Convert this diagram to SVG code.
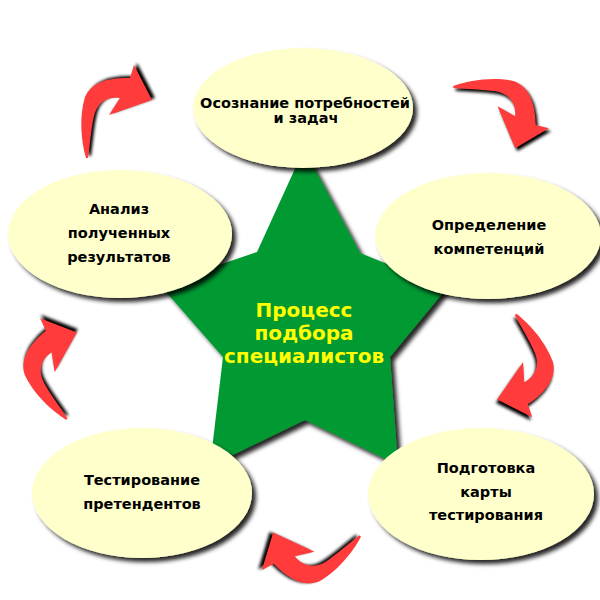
<svg xmlns="http://www.w3.org/2000/svg" xmlns:xlink="http://www.w3.org/1999/xlink" width="600" height="600" viewBox="0 0 600 600">
<style>
.node-shape{fill:#FFFFCC;filter:url(#shadow);}
.lbl{font-family:"DejaVu Sans","Noto Sans",sans-serif;font-weight:bold;font-size:14.5px;fill:#000;text-anchor:middle;}
.center{font-family:"DejaVu Sans","Noto Sans",sans-serif;font-weight:bold;font-size:20px;fill:#FFFF00;text-anchor:middle;}
</style>
<defs>
<filter id="shadow" x="-20%" y="-20%" width="140%" height="140%">
<feDropShadow dx="4" dy="4" stdDeviation="2" flood-color="#000" flood-opacity="0.85"/>
</filter>
<filter id="blur" x="-30%" y="-30%" width="160%" height="160%">
<feGaussianBlur stdDeviation="1.6"/>
</filter>
<g id="arrowShape">
<path transform="translate(3,-2)" filter="url(#blur)" fill="#000" d="M-31,47 C-36,30 -38,5 -32,-14 C-26,-28 -10,-34 13,-33 L17,-46 L35,-11 L-8,4 L3,-13 C-10,-15 -20,-8 -23,5 C-26,18 -27,34 -29,47 Z"/>
<path fill="#FF3B3B" d="M-31,47 C-36,30 -38,5 -32,-14 C-26,-28 -10,-34 13,-33 L17,-46 L35,-11 L-8,4 L3,-13 C-10,-15 -20,-8 -23,5 C-26,18 -27,34 -29,47 Z"/>
</g>
</defs>
<rect width="600" height="600" fill="#fff"/>
<g id="star">
<path fill="#009933" filter="url(#shadow)" d="M304,149 L360,253 L447,288 L390,357 L398,465 L305,420 L210,466 L223,357 L160,285 L257,252 Z"/>
<text class="center" x="304" y="317">Процесс</text>
<text class="center" x="304" y="340">подбора</text>
<text class="center" x="304" y="363">специалистов</text>
</g>
<g id="connectors">
<use xlink:href="#arrowShape" transform="translate(117,111)"/>
<use xlink:href="#arrowShape" transform="translate(502,114) rotate(86.5)"/>
<use xlink:href="#arrowShape" transform="translate(519,370) rotate(144)"/>
<use xlink:href="#arrowShape" transform="translate(306,549) rotate(224)"/>
<use xlink:href="#arrowShape" transform="translate(58,364) rotate(-41.6)"/>
</g>
<g id="node-top">
<ellipse class="node-shape" cx="303" cy="108" rx="110" ry="60"/>
<text class="lbl" x="305" y="108">Осознание потребностей</text>
<text class="lbl" x="306" y="123">и задач</text>
</g>
<g id="node-right">
<ellipse class="node-shape" cx="488" cy="236" rx="113" ry="63"/>
<text class="lbl" x="489" y="230">Определение</text>
<text class="lbl" x="489" y="254">компетенций</text>
</g>
<g id="node-bottom-right">
<ellipse class="node-shape" cx="481" cy="494" rx="113" ry="66"/>
<text class="lbl" x="486" y="473">Подготовка</text>
<text class="lbl" x="486" y="497">карты</text>
<text class="lbl" x="486" y="520">тестирования</text>
</g>
<g id="node-bottom-left">
<ellipse class="node-shape" cx="142" cy="493" rx="110" ry="65"/>
<text class="lbl" x="142" y="485">Тестирование</text>
<text class="lbl" x="142" y="509">претендентов</text>
</g>
<g id="node-left">
<ellipse class="node-shape" cx="120" cy="234" rx="112" ry="64"/>
<text class="lbl" x="119" y="214">Анализ</text>
<text class="lbl" x="119" y="238">полученных</text>
<text class="lbl" x="119" y="262">результатов</text>
</g>
</svg>
